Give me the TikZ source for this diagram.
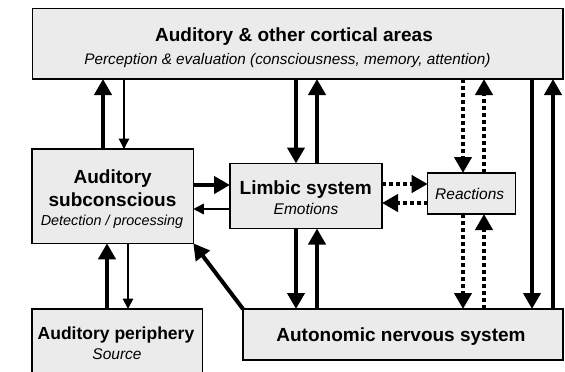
\documentclass[tikz,border=0pt]{standalone}
\usepackage{fontspec}
\setmainfont{Liberation Sans}
\usetikzlibrary{arrows.meta}
\definecolor{boxfill}{RGB}{235,235,235}
\tikzset{
  box/.style={draw=black, line width=1.3pt, fill=boxfill, inner sep=0pt, outer sep=0pt},
  ttl/.style={anchor=base, inner sep=0pt, font=\bfseries\fontsize{19}{22}\selectfont},
  ital/.style={anchor=base, inner sep=0pt, font=\itshape\fontsize{15.5}{18}\selectfont},
  big/.style={line width=4pt, -{Triangle[length=16pt,width=17pt]}},
  slim/.style={line width=1.6pt, -{Triangle[length=10.5pt,width=10.5pt]}},
  dotarrow/.style={big, dash pattern=on 4pt off 3pt},
}
\begin{document}
\begin{tikzpicture}[x=1pt,y=-1pt]
\useasboundingbox (0,0) rectangle (565,372);
\clip (0,0) rectangle (565,372);
% boxes
\node[box, minimum width=530.5pt, minimum height=70.7pt] (top) at (297.75,43.65) {};
\node[box, minimum width=161.3pt, minimum height=94.3pt] (sub) at (112.65,196.15) {};
\node[box, minimum width=152pt, minimum height=65pt] (lim) at (306,196) {};
\node[box, minimum width=88pt, minimum height=41pt] (rea) at (471.7,193.5) {};
\node[box, minimum width=170.7pt, minimum height=64pt] (per) at (117.35,341) {};
\node[box, minimum width=320pt, minimum height=51pt] (aut) at (403,334.5) {};
% texts
\node[ttl] (topT) at (294,41.7) {Auditory \& other cortical areas};
\node[ital, font=\itshape\fontsize{15.3}{18}\selectfont] (topS) at (287.5,64) {Perception \& evaluation (consciousness, memory, attention)};
\node[ttl] (subT1) at (112.7,183.3) {Auditory};
\node[ttl] (subT2) at (112.5,206) {subconscious};
\node[ital, font=\itshape\fontsize{14.4}{18}\selectfont] (subS) at (112,225.7) {Detection / processing};
\node[ttl] (limT) at (305.7,194.3) {Limbic system};
\node[ital] (limS) at (306,214.3) {Emotions};
\node[ital] (reaT) at (469.7,199) {Reactions};
\node[ttl, font=\bfseries\fontsize{17.5}{20}\selectfont] (perT) at (116,339) {Auditory periphery};
\node[ital] (perS) at (117,359.3) {Source};
\node[ttl] (autT) at (401,341) {Autonomic nervous system};
% guide coordinates
\coordinate (xA) at (103,0);
\coordinate (xB) at (124,0);
\coordinate (xC) at (107,0);
\coordinate (xD) at (128,0);
\coordinate (xE) at (296,0);
\coordinate (xF) at (317,0);
\coordinate (xG) at (463,0);
\coordinate (xH) at (484,0);
\coordinate (xI) at (532,0);
\coordinate (xJ) at (553,0);
\coordinate (yA) at (0,185);
\coordinate (yB) at (0,209);
\coordinate (yC) at (0,184);
\coordinate (yD) at (0,203);
% subconscious <-> cortical
\draw[big] (xA |- sub.north) -- (xA |- top.south);
\draw[slim] (xB |- top.south) -- (xB |- sub.north);
% periphery <-> subconscious
\draw[big] (xC |- per.north) -- (xC |- sub.south);
\draw[slim] (xD |- sub.south) -- (xD |- per.north);
% subconscious <-> limbic
\draw[big] (sub.east |- yA) -- (lim.west |- yA);
\draw[slim] (lim.west |- yB) -- (sub.east |- yB);
% cortical <-> limbic
\draw[big] (xE |- top.south) -- (xE |- lim.north);
\draw[big] (xF |- lim.north) -- (xF |- top.south);
% limbic <-> autonomic
\draw[big] (xE |- lim.south) -- (xE |- aut.north);
\draw[big] (xF |- aut.north) -- (xF |- lim.south);
% limbic <-> reactions
\draw[dotarrow] (lim.east |- yC) -- (rea.west |- yC);
\draw[dotarrow] (rea.west |- yD) -- (lim.east |- yD);
% cortical <-> reactions
\draw[dotarrow] (xG |- top.south) -- (xG |- rea.north);
\draw[dotarrow] (xH |- rea.north) -- (xH |- top.south);
% reactions <-> autonomic
\draw[dotarrow] (xG |- rea.south) -- (xG |- aut.north);
\draw[dotarrow] (xH |- aut.north) -- (xH |- rea.south);
% cortical <-> autonomic
\draw[big] (xI |- top.south) -- (xI |- aut.north);
\draw[big] (xJ |- aut.north) -- (xJ |- top.south);
% autonomic -> subconscious
\draw[big] (aut.north west) -- (sub.south east);
\end{tikzpicture}
\end{document}
